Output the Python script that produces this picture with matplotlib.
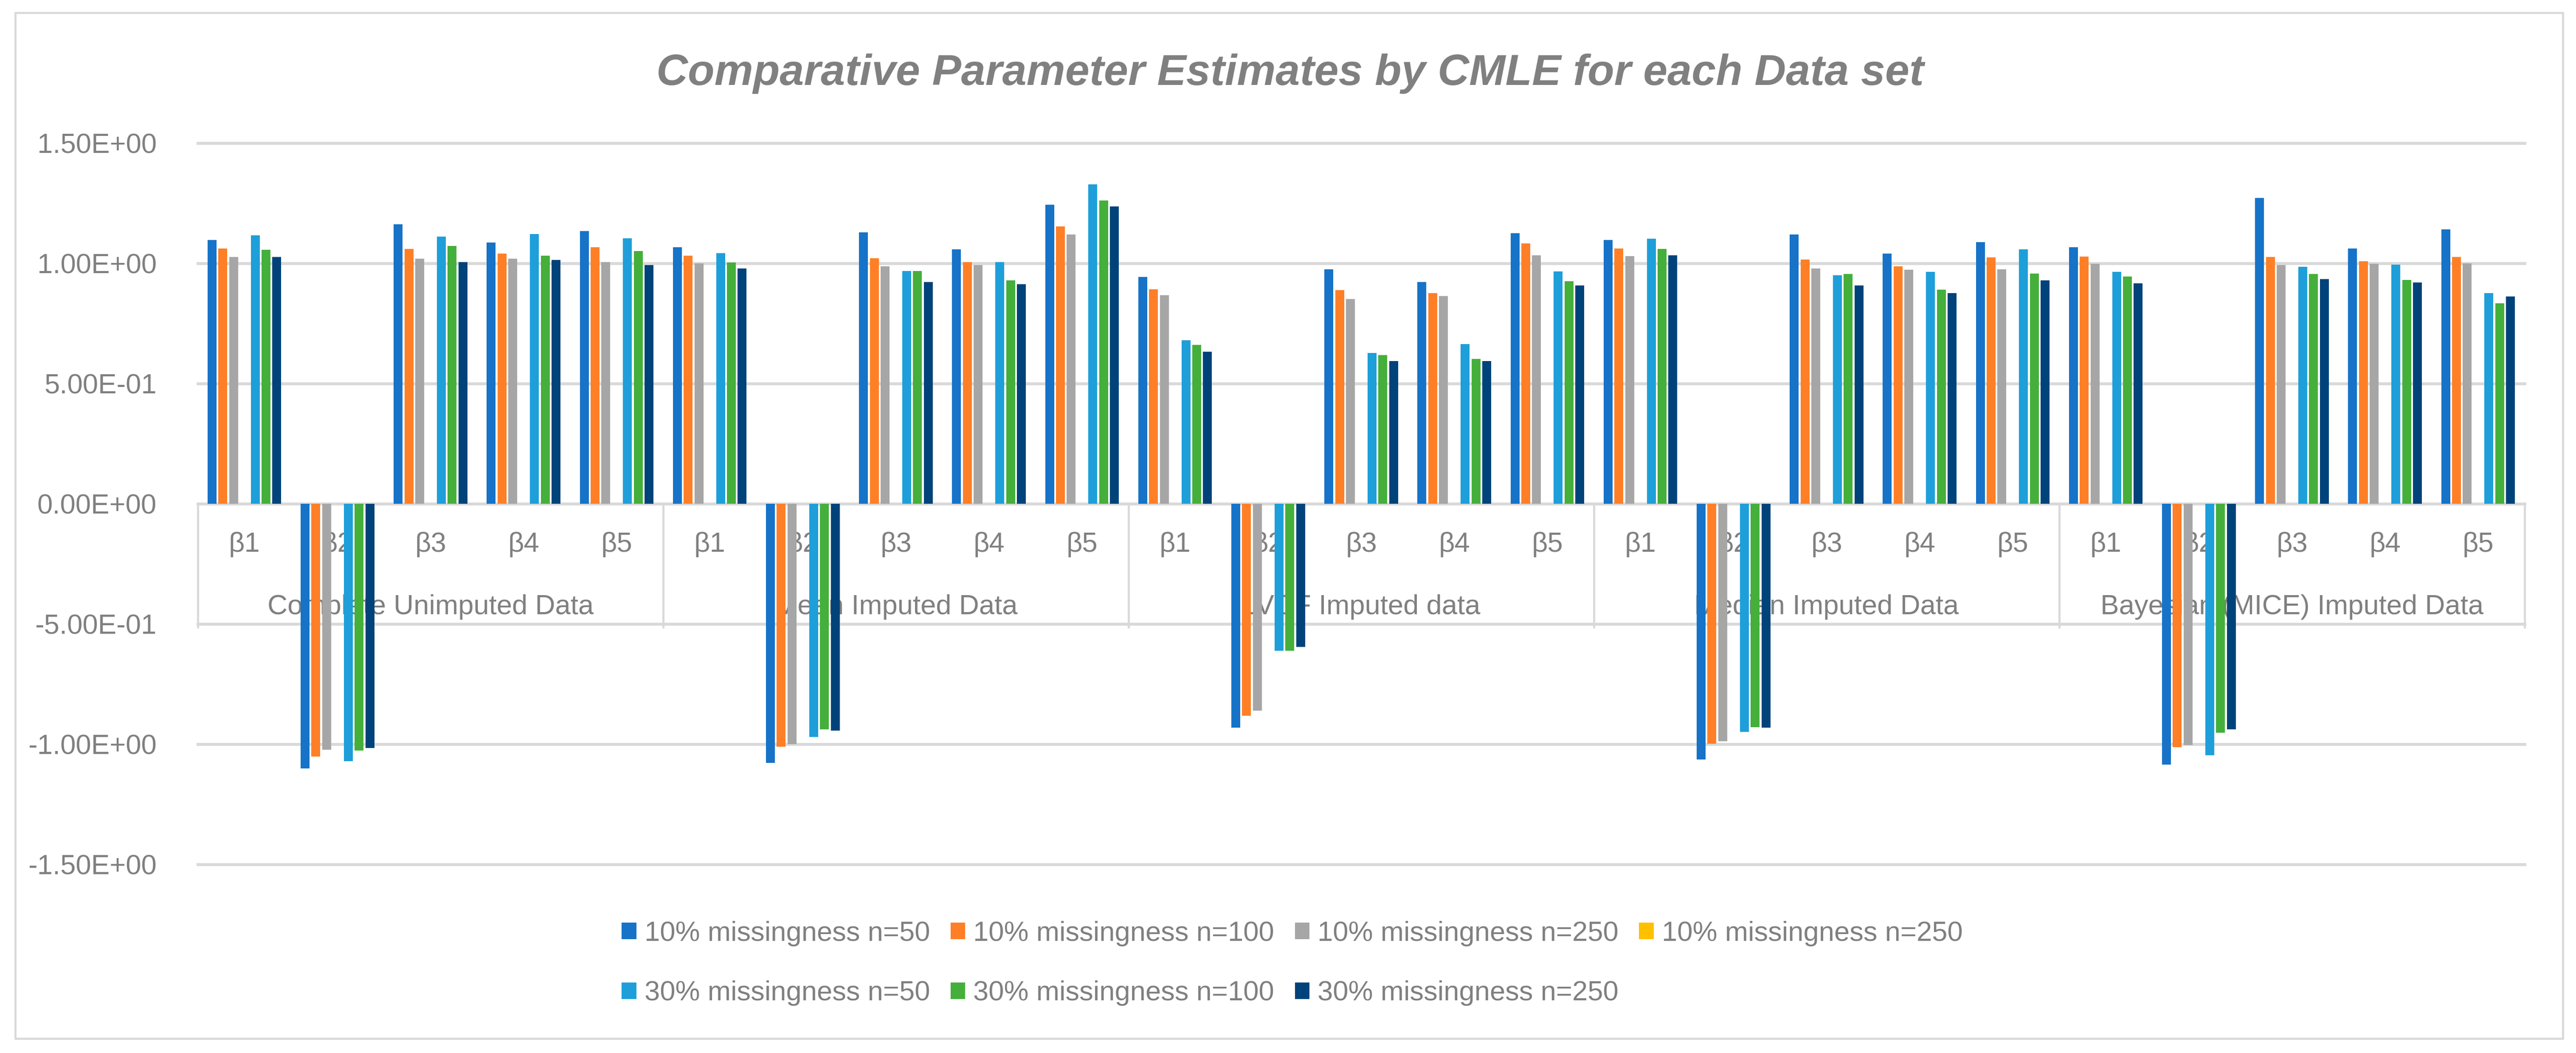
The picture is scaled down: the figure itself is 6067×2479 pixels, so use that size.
import numpy as np
import matplotlib
matplotlib.use("Agg")
import matplotlib.pyplot as plt
from matplotlib import font_manager
from matplotlib.patches import Rectangle

# ---------------- data ----------------
groups = ["Complete Unimputed Data", "Mean Imputed Data", "LVCF Imputed data",
          "Median Imputed Data", "Bayesian (MICE) Imputed Data"]
params = ["β1", "β2", "β3", "β4", "β5"]
series_names = ["10% missingness n=50", "10% missingness n=100", "10% missingness n=250",
                "10% missingness n=250", "30% missingness n=50", "30% missingness n=100",
                "30% missingness n=250"]
yticks = [-1.5, -1.0, -0.5, 0.0, 0.5, 1.0, 1.5]
ytick_labels = ["-1.50E+00", "-1.00E+00", "-5.00E-01", "0.00E+00", "5.00E-01", "1.00E+00", "1.50E+00"]

s_10_50 = [1.097, -1.100, 1.163, 1.087, 1.134,
           1.068, -1.078, 1.129, 1.058, 1.243,
           0.943, -0.931, 0.976, 0.922, 1.125,
           1.097, -1.064, 1.120, 1.040, 1.089,
           1.067, -1.085, 1.272, 1.062, 1.141]
s_10_100 = [1.062, -1.051, 1.060, 1.040, 1.068,
            1.031, -1.011, 1.022, 1.005, 1.154,
            0.893, -0.881, 0.888, 0.877, 1.083,
            1.062, -0.998, 1.016, 0.988, 1.025,
            1.029, -1.013, 1.026, 1.009, 1.026]
s_10_250 = [1.026, -1.023, 1.019, 1.019, 1.005,
            1.000, -1.000, 0.988, 0.993, 1.120,
            0.868, -0.860, 0.852, 0.864, 1.033,
            1.030, -0.988, 0.979, 0.973, 0.976,
            0.998, -1.004, 0.993, 0.998, 1.000]
s_10_250b = [np.nan] * 25  # series present in legend, no values plotted
s_30_50 = [1.117, -1.071, 1.112, 1.122, 1.104,
           1.042, -0.970, 0.968, 1.006, 1.329,
           0.681, -0.612, 0.627, 0.664, 0.966,
           1.102, -0.949, 0.950, 0.964, 1.058,
           0.964, -1.046, 0.985, 0.994, 0.877]
s_30_100 = [1.056, -1.026, 1.072, 1.031, 1.051,
            1.004, -0.938, 0.969, 0.929, 1.262,
            0.660, -0.612, 0.619, 0.603, 0.926,
            1.060, -0.929, 0.955, 0.890, 0.957,
            0.945, -0.952, 0.955, 0.931, 0.834]
s_30_250 = [1.026, -1.016, 1.006, 1.014, 0.993,
            0.979, -0.944, 0.922, 0.913, 1.237,
            0.632, -0.595, 0.594, 0.593, 0.909,
            1.033, -0.931, 0.908, 0.877, 0.929,
            0.917, -0.938, 0.934, 0.921, 0.862]

series_values = [s_10_50, s_10_100, s_10_250, s_10_250b, s_30_50, s_30_100, s_30_250]
colors = ["#1673C8", "#FF7F27", "#A6A6A6", "#FFC000", "#1E9FDA", "#45AF3B", "#00437A"]

# ---------------- fonts ----------------
names = {f.name for f in font_manager.fontManager.ttflist}
if "Liberation Sans Narrow" in names:
    FONT = ["Liberation Sans Narrow", "DejaVu Sans"]
    FS = 57
else:
    FONT = ["Liberation Sans", "DejaVu Sans"]
    FS = 47
plt.rcParams["font.family"] = FONT
TXT = "#808080"
GRID = "#D9D9D9"

W, H = 6067, 2479
fig = plt.figure(figsize=(W / 100, H / 100), dpi=100)
ax = fig.add_axes([466 / W, 1 - 2035 / H, (5946 - 466) / W, (2035 - 337) / H])

ncat = len(groups) * len(params)
x = np.arange(ncat)
slot = 0.1159
bw = 0.0958
handles = []
for i, (vals, c, nm) in enumerate(zip(series_values, colors, series_names)):
    b = ax.bar(x + (i - 3) * slot, vals, width=bw, color=c, label=nm, zorder=3, linewidth=0)
    handles.append(b)

ax.set_xlim(-0.5, ncat - 0.5)
ax.set_ylim(-1.5, 1.5)
for s in ax.spines.values():
    s.set_visible(False)
ax.set_xticks([])
ax.set_yticks(yticks)
ax.set_yticklabels(ytick_labels, fontsize=FS, color=TXT)
ax.tick_params(axis="y", length=0, pad=70)

for yv in yticks:
    ax.axhline(yv, color=GRID, lw=5, zorder=0.5, clip_on=False)

# category separators
for k in range(len(groups) + 1):
    ax.plot([k * 5 - 0.5, k * 5 - 0.5], [0, -0.517], color=GRID, lw=3.5, zorder=0.6,
            clip_on=False, solid_capstyle="butt")

# category labels
for gi, g in enumerate(groups):
    for pi, p in enumerate(params):
        ax.text(gi * 5 + pi, -0.17, p, ha="center", va="center", fontsize=FS, color=TXT, zorder=1)
    ax.text(gi * 5 + 2, -0.43, g, ha="center", va="center", fontsize=FS, color=TXT, zorder=1)

# title
fig.text(3038 / W, 1 - 200 / H, "Comparative Parameter Estimates by CMLE for each Data set",
         ha="center", va="baseline", fontsize=FS * 1.57, color=TXT, fontweight="bold",
         fontstyle="italic")

# legend: row-major order
order = [0, 4, 1, 5, 2, 6, 3]
leg = fig.legend([handles[i] for i in order], [series_names[i] for i in order],
                 loc="center left", bbox_to_anchor=(1464 / W, 1 - 2268 / H), ncol=4,
                 frameon=False, fontsize=FS, labelcolor=TXT, borderpad=0, borderaxespad=0,
                 handlelength=0.53, handleheight=0.53, handletextpad=0.29,
                 columnspacing=0.745, labelspacing=1.24)

# outer border
fig.patches.append(Rectangle((36 / W, 1 - 2445 / H), (6036 - 36) / W, (2445 - 30) / H,
                             transform=fig.transFigure, fill=False, edgecolor=GRID, lw=3.5))

fig.savefig("out.png", dpi=100)
